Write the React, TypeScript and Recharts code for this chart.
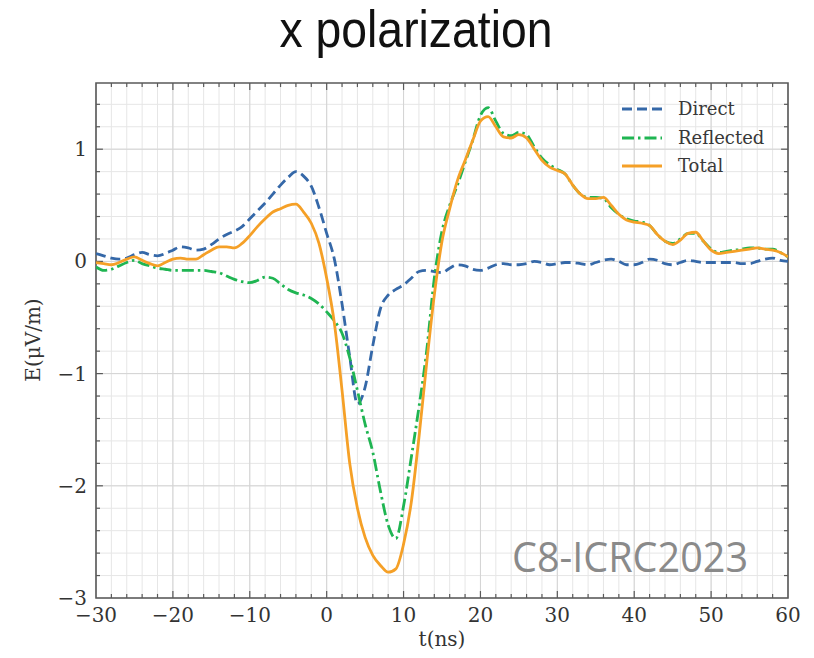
import React from 'react';
import {
  LineChart,
  Line,
  XAxis,
  YAxis,
  CartesianGrid,
  ReferenceLine,
  ReferenceArea,
  Legend,
} from 'recharts';

// ---- data (t in ns, E in µV/m) ----
const times = [
  -30, -29, -28, -27, -26, -25, -24, -23, -22, -21,
  -20, -19, -18, -17, -16, -15, -14, -13, -12, -11,
  -10, -9, -8, -7, -6, -5, -4, -3, -2, -1,
  0, 1, 2, 3, 4, 5, 6, 7, 8, 9,
  10, 11, 12, 13, 14, 15, 16, 17, 18, 19,
  20, 21, 22, 23, 24, 25, 26, 27, 28, 29,
  30, 31, 32, 33, 34, 35, 36, 37, 38, 39,
  40, 41, 42, 43, 44, 45, 46, 47, 48, 49,
  50, 51, 52, 53, 54, 55, 56, 57, 58, 59,
  60,
];

const direct = [
  0.07, 0.05, 0.03, 0.02, 0.03, 0.06, 0.08, 0.06, 0.05, 0.07,
  0.10, 0.13, 0.12, 0.10, 0.11, 0.15, 0.20, 0.24, 0.27, 0.31,
  0.38, 0.45, 0.52, 0.60, 0.68, 0.75, 0.80, 0.76, 0.67, 0.48,
  0.25, 0.02, -0.38, -0.85, -1.27, -1.12, -0.75, -0.42, -0.30, -0.25,
  -0.21, -0.15, -0.09, -0.08, -0.09, -0.10, -0.06, -0.03, -0.04, -0.07,
  -0.08, -0.06, -0.03, -0.02, -0.03, -0.03, -0.02, 0.00, -0.01, -0.03,
  -0.02, -0.01, -0.01, -0.02, -0.03, -0.01, 0.01, 0.02, 0.00, -0.03,
  -0.03, -0.01, 0.02, 0.01, -0.02, -0.03, -0.01, 0.01, 0.00, -0.01,
  -0.01, -0.01, -0.01, -0.01, -0.02, -0.02, 0.00, 0.02, 0.03, 0.01,
  0.00,
];

const reflected = [
  -0.05, -0.08, -0.07, -0.04, -0.01, 0.01, -0.02, -0.04, -0.06, -0.07,
  -0.08, -0.08, -0.08, -0.08, -0.08, -0.09, -0.10, -0.13, -0.16, -0.18,
  -0.19, -0.17, -0.14, -0.15, -0.20, -0.25, -0.28, -0.30, -0.33, -0.38,
  -0.45, -0.53, -0.64, -0.86, -1.15, -1.45, -1.70, -2.05, -2.35, -2.47,
  -2.18, -1.75, -1.30, -0.80, -0.15, 0.27, 0.50, 0.68, 0.88, 1.08,
  1.30, 1.37, 1.25, 1.14, 1.12, 1.15, 1.13, 1.02, 0.92, 0.86,
  0.82, 0.78, 0.68, 0.60, 0.57, 0.57, 0.56, 0.48, 0.42, 0.38,
  0.36, 0.35, 0.32, 0.24, 0.18, 0.16, 0.20, 0.25, 0.25, 0.18,
  0.11, 0.08, 0.09, 0.10, 0.11, 0.12, 0.12, 0.11, 0.11, 0.08,
  0.04,
];

const total = [
  -0.01, -0.02, -0.03, -0.01, 0.02, 0.04, 0.01, -0.02, -0.04, -0.01,
  0.02, 0.03, 0.02, 0.02, 0.06, 0.10, 0.13, 0.13, 0.12, 0.16,
  0.23, 0.31, 0.38, 0.44, 0.47, 0.50, 0.51, 0.44, 0.34, 0.16,
  -0.15, -0.55, -1.15, -1.80, -2.20, -2.46, -2.62, -2.71, -2.77, -2.74,
  -2.52, -2.15, -1.57, -0.91, -0.30, 0.18, 0.47, 0.72, 0.90, 1.08,
  1.25, 1.29, 1.20, 1.11, 1.10, 1.13, 1.10, 1.00, 0.90, 0.84,
  0.81, 0.78, 0.68, 0.60, 0.56, 0.56, 0.57, 0.50, 0.42, 0.37,
  0.35, 0.34, 0.32, 0.24, 0.18, 0.15, 0.19, 0.25, 0.26, 0.18,
  0.10, 0.07, 0.08, 0.09, 0.10, 0.11, 0.12, 0.11, 0.10, 0.08,
  0.04,
];

const xTicks = [-30, -20, -10, 0, 10, 20, 30, 40, 50, 60];
const yTicks = [-3, -2, -1, 0, 1];
const xMinor = [
  -30, -28, -26, -24, -22, -20, -18, -16, -14, -12, -10, -8, -6, -4, -2,
  0, 2, 4, 6, 8, 10, 12, 14, 16, 18, 20, 22, 24, 26, 28, 30, 32, 34, 36, 38,
  40, 42, 44, 46, 48, 50, 52, 54, 56, 58, 60,
];
const yMinor = [
  -3, -2.8, -2.6, -2.4, -2.2, -2, -1.8, -1.6, -1.4, -1.2, -1, -0.8, -0.6,
  -0.4, -0.2, 0, 0.2, 0.4, 0.6, 0.8, 1, 1.2, 1.4,
];

const seriesNames = ['Direct', 'Reflected', 'Total'];

const X_MIN = -30;
const X_MAX = 60;
const Y_MIN = -3;
const Y_MAX = 1.59;

const data = times.map((t, i) => ({
  t,
  direct: direct[i],
  reflected: reflected[i],
  total: total[i],
}));

// ---- styles ----
const C_DIRECT = '#3568a8';
const C_REFL = '#1fb552';
const C_TOTAL = '#f5a027';
const DASH_DIRECT = '10 5';
const DASH_REFL = '12 4 2.5 4';
const LW = 2.8;
const SERIF = '"DejaVu Serif", serif';
const FRAME = '#5a5a5a';

const legendStyles = [
  { color: C_DIRECT, dash: DASH_DIRECT },
  { color: C_REFL, dash: DASH_REFL },
  { color: C_TOTAL, dash: undefined as string | undefined },
];

const fmt = (v: number) => (v < 0 ? '\u2212' + Math.abs(v) : String(v));

const LegendContent = () => (
  <div style={{ fontFamily: SERIF, fontSize: 18, color: '#383838' }}>
    {seriesNames.map((n, i) => (
      <div key={n} style={{ display: 'flex', alignItems: 'center', height: 28.5 }}>
        <svg width={44} height={10} style={{ display: 'block' }}>
          <line
            x1={2}
            x2={42}
            y1={5}
            y2={5}
            stroke={legendStyles[i].color}
            strokeWidth={LW}
            strokeDasharray={legendStyles[i].dash}
          />
        </svg>
        <span style={{ marginLeft: 14, lineHeight: '20px' }}>{n}</span>
      </div>
    ))}
  </div>
);

export default function App() {
  const tickSegs: React.ReactNode[] = [];
  xMinor.forEach((v) => {
    if (v === X_MIN || v === X_MAX) return;
    const major = xTicks.includes(v);
    const len = major ? 0.062 : 0.036;
    tickSegs.push(
      <ReferenceLine
        key={'xb' + v}
        segment={[{ x: v, y: Y_MIN }, { x: v, y: Y_MIN + len }]}
        stroke={FRAME}
        strokeWidth={1.2}
      />,
      <ReferenceLine
        key={'xt' + v}
        segment={[{ x: v, y: Y_MAX }, { x: v, y: Y_MAX - len }]}
        stroke={FRAME}
        strokeWidth={1.2}
      />
    );
  });
  yMinor.forEach((v) => {
    if (v === Y_MIN) return;
    const major = yTicks.includes(v);
    const len = major ? 0.9 : 0.52;
    tickSegs.push(
      <ReferenceLine
        key={'yl' + v}
        segment={[{ x: X_MIN, y: v }, { x: X_MIN + len, y: v }]}
        stroke={FRAME}
        strokeWidth={1.2}
      />,
      <ReferenceLine
        key={'yr' + v}
        segment={[{ x: X_MAX, y: v }, { x: X_MAX - len, y: v }]}
        stroke={FRAME}
        strokeWidth={1.2}
      />
    );
  });

  return (
    <div
      style={{
        position: 'absolute',
        left: 0,
        top: 0,
        width: 814,
        height: 658,
        background: '#fff',
      }}
    >
      <LineChart
        width={814}
        height={658}
        data={data}
        margin={{ top: 83, right: 26, bottom: 30, left: 46 }}
      >
        <CartesianGrid
          verticalValues={xMinor}
          horizontalValues={yMinor}
          stroke="#e6e6e6"
          strokeWidth={1}
        />
        <CartesianGrid
          verticalValues={xTicks}
          horizontalValues={yTicks}
          stroke="#d4d4d4"
          strokeWidth={1}
        />
        <XAxis
          type="number"
          dataKey="t"
          domain={[X_MIN, X_MAX]}
          ticks={xTicks}
          allowDataOverflow
          height={30}
          tickLine={false}
          axisLine={false}
          tickSize={0}
          tickMargin={10}
          tickFormatter={fmt}
          tick={{ fontFamily: SERIF, fontSize: 20, fill: '#333' }}
          interval={0}
        />
        <YAxis
          type="number"
          domain={[Y_MIN, Y_MAX]}
          ticks={yTicks}
          allowDataOverflow
          width={50}
          tickLine={false}
          axisLine={false}
          tickSize={0}
          tickMargin={9}
          tickFormatter={fmt}
          tick={{ fontFamily: SERIF, fontSize: 20, fill: '#333' }}
          interval={0}
        />
        <ReferenceArea
          x1={X_MIN}
          x2={X_MAX}
          y1={Y_MIN}
          y2={Y_MAX}
          fill="none"
          fillOpacity={0}
          stroke={FRAME}
          strokeWidth={1.6}
        />
        {tickSegs}
        <Line
          type="monotone"
          dataKey="direct"
          name="Direct"
          stroke={C_DIRECT}
          strokeWidth={LW}
          strokeDasharray={DASH_DIRECT}
          dot={false}
          isAnimationActive={false}
        />
        <Line
          type="monotone"
          dataKey="reflected"
          name="Reflected"
          stroke={C_REFL}
          strokeWidth={LW}
          strokeDasharray={DASH_REFL}
          dot={false}
          isAnimationActive={false}
        />
        <Line
          type="monotone"
          dataKey="total"
          name="Total"
          stroke={C_TOTAL}
          strokeWidth={LW}
          dot={false}
          isAnimationActive={false}
        />
        <Legend
          layout="vertical"
          align="center"
          verticalAlign="middle"
          content={LegendContent}
          wrapperStyle={{ top: 95, left: 620, width: 170, right: 'auto', bottom: 'auto' }}
        />
      </LineChart>
      <svg
        width={814}
        height={658}
        style={{ position: 'absolute', left: 0, top: 0, pointerEvents: 'none' }}
      >
        <text
          x={416}
          y={47}
          textAnchor="middle"
          fontFamily='"Liberation Sans", Arial, sans-serif'
          fontSize={52}
          fill="#111"
          textLength={273}
          lengthAdjust="spacingAndGlyphs"
        >
          x polarization
        </text>
        <text
          x={512}
          y={572}
          fontFamily='"Open Sans", sans-serif'
          fontSize={42}
          fill="#8a8a8a"
          textLength={236}
          lengthAdjust="spacingAndGlyphs"
        >
          C8-ICRC2023
        </text>
        <text
          x={442}
          y={646}
          textAnchor="middle"
          fontFamily={SERIF}
          fontSize={20}
          fill="#333"
        >
          t(ns)
        </text>
        <text
          x={40}
          y={340}
          textAnchor="middle"
          transform="rotate(-90 40 340)"
          fontFamily={SERIF}
          fontSize={20}
          fill="#333"
        >
          E(μV/m)
        </text>
      </svg>
    </div>
  );
}
